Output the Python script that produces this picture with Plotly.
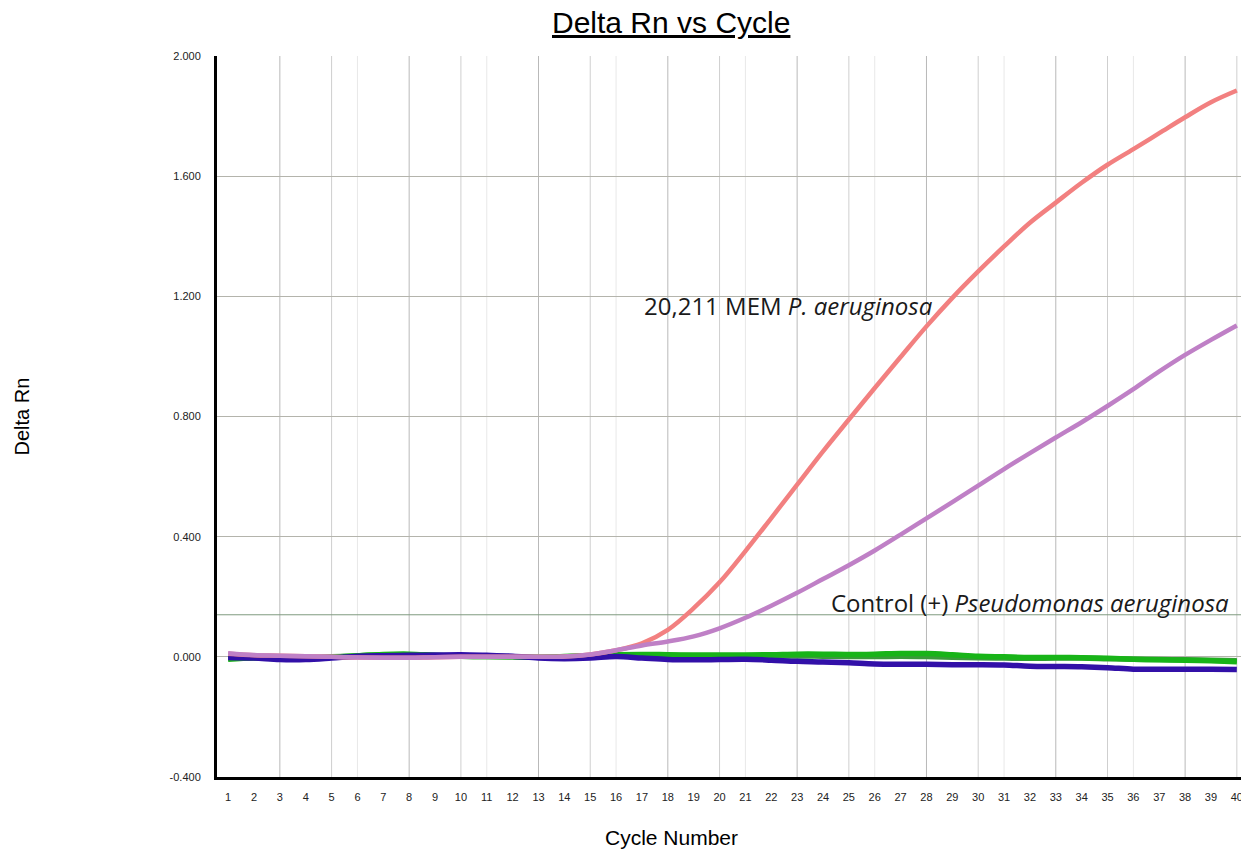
import plotly.graph_objects as go

cycles = list(range(1, 41))

# Delta Rn values
mem_pa = [0.010, 0.005, 0.004, 0.002, 0.000, -0.002, -0.003, -0.003, -0.001, 0.000,
          0.000, 0.000, 0.000, 0.001, 0.008, 0.022, 0.045, 0.090, 0.162, 0.248,
          0.352, 0.462, 0.573, 0.684, 0.790, 0.895, 0.998, 1.100, 1.195, 1.283,
          1.366, 1.445, 1.512, 1.578, 1.638, 1.690, 1.743, 1.796, 1.846, 1.885]

control_pa = [0.012, 0.006, 0.004, 0.002, 0.000, -0.002, -0.003, -0.003, -0.001, 0.000,
              0.000, 0.000, 0.000, 0.001, 0.008, 0.022, 0.038, 0.051, 0.068, 0.095,
              0.130, 0.170, 0.213, 0.259, 0.305, 0.354, 0.407, 0.461, 0.515, 0.570,
              0.625, 0.678, 0.730, 0.781, 0.835, 0.891, 0.950, 1.005, 1.055, 1.103]

green_a = [-0.008, -0.004, -0.006, -0.005, -0.001, 0.004, 0.008, 0.009, 0.005, 0.002,
           0.001, 0.000, -0.001, 0.001, 0.004, 0.007, 0.008, 0.007, 0.006, 0.006,
           0.006, 0.007, 0.009, 0.009, 0.008, 0.009, 0.011, 0.011, 0.007, 0.002,
           0.000, -0.002, -0.002, -0.003, -0.005, -0.008, -0.010, -0.011, -0.013, -0.016]

green_b = [-0.004, -0.002, -0.004, -0.004, 0.000, 0.003, 0.006, 0.007, 0.004, 0.002,
           0.001, 0.000, -0.001, 0.000, 0.003, 0.005, 0.006, 0.005, 0.004, 0.003,
           0.002, 0.002, 0.003, 0.002, 0.001, 0.001, 0.002, 0.001, -0.001, -0.003,
           -0.004, -0.005, -0.004, -0.004, -0.006, -0.008, -0.009, -0.010, -0.011, -0.013]

blue_a = [-0.002, -0.004, -0.009, -0.009, -0.004, 0.002, 0.004, 0.005, 0.006, 0.007,
          0.005, 0.002, -0.004, -0.006, -0.004, 0.001, -0.004, -0.009, -0.010, -0.009,
          -0.008, -0.011, -0.015, -0.017, -0.020, -0.024, -0.025, -0.025, -0.026, -0.026,
          -0.027, -0.031, -0.032, -0.033, -0.036, -0.041, -0.041, -0.041, -0.041, -0.042]

# vertical grid positions (cycles)
grid_major = [3, 8, 13, 18, 23, 28, 33, 38]
grid_mid = [5, 10, 15, 20, 25, 30, 35, 40]
grid_light = [6, 11, 16, 21, 26, 31, 36]

threshold = 0.14

fig = go.Figure()

fig.add_trace(go.Scatter(x=cycles, y=green_b, mode="lines", line=dict(color="#3a9a3a", width=5.5, shape="spline"), showlegend=False))
fig.add_trace(go.Scatter(x=cycles, y=green_a, mode="lines", line=dict(color="#18b418", width=5.5, shape="spline"), showlegend=False))
fig.add_trace(go.Scatter(x=cycles, y=blue_a, mode="lines", line=dict(color="#3210a8", width=5.5, shape="spline"), showlegend=False))
fig.add_trace(go.Scatter(x=cycles, y=mem_pa, mode="lines", line=dict(color="#f28080", width=4.5, shape="spline"), showlegend=False))
fig.add_trace(go.Scatter(x=cycles, y=control_pa, mode="lines", line=dict(color="#bf80c6", width=4.5, shape="spline"), showlegend=False))

shapes = []
for c in grid_major:
    shapes.append(dict(type="line", xref="x", yref="paper", x0=c, x1=c, y0=0, y1=1,
                       line=dict(color="#b9b9b9", width=1), layer="below"))
for c in grid_mid:
    shapes.append(dict(type="line", xref="x", yref="paper", x0=c, x1=c, y0=0, y1=1,
                       line=dict(color="#cfcfcf", width=1), layer="below"))
for c in grid_light:
    shapes.append(dict(type="line", xref="x", yref="paper", x0=c, x1=c, y0=0, y1=1,
                       line=dict(color="#e8e8e8", width=1), layer="below"))
shapes.append(dict(type="line", xref="paper", yref="y", x0=0, x1=1, y0=threshold, y1=threshold,
                   line=dict(color="#7f9a7f", width=1), layer="below"))

annotations = [
    dict(text="<u>Delta Rn vs Cycle</u>", xref="paper", yref="paper", x=0.44, y=1.046,
         showarrow=False, font=dict(family="Arial, Liberation Sans", size=30, color="#000000"),
         xanchor="center", yanchor="middle"),
    dict(text="Delta Rn", xref="paper", yref="paper", x=-0.189, y=0.5, textangle=-90,
         showarrow=False, font=dict(family="Arial, Liberation Sans", size=20, color="#000000"),
         xanchor="center", yanchor="middle"),
    dict(text="Cycle Number", xref="paper", yref="paper", x=0.44, y=-0.0846,
         showarrow=False, font=dict(family="Arial, Liberation Sans", size=21, color="#000000"),
         xanchor="center", yanchor="middle"),
    dict(text="20,211 MEM <i>P. aeruginosa</i>", xref="x", yref="y", x=22.65, y=1.17,
         showarrow=False, font=dict(family="Open Sans", size=24, color="#1a1a1a"),
         xanchor="center", yanchor="middle"),
    dict(text="Control (+) <i>Pseudomonas aeruginosa</i>", xref="x", yref="y", x=32.0, y=0.18,
         showarrow=False, font=dict(family="Open Sans", size=24, color="#1a1a1a"),
         xanchor="center", yanchor="middle"),
]

fig.update_layout(
    width=1249, height=850,
    margin=dict(l=209, r=8, t=48, b=81),
    paper_bgcolor="white", plot_bgcolor="white",
    shapes=shapes, annotations=annotations,
    showlegend=False,
    font=dict(family="Arial, Liberation Sans", color="#222222"),
)

fig.update_xaxes(
    range=[0.57, 40.47], tickmode="array", tickvals=cycles, ticktext=[str(c) for c in cycles],
    showgrid=False, zeroline=False, showline=True, linecolor="#000000", linewidth=3,
    ticks="", tickfont=dict(size=11, color="#222222"), ticklabelstandoff=8,
)
fig.update_yaxes(
    range=[-0.4, 2.0], tickmode="array", tickvals=[-0.4, 0.0, 0.4, 0.8, 1.2, 1.6, 2.0],
    ticktext=["-0.400", "0.000", "0.400", "0.800", "1.200", "1.600", "2.000"],
    showgrid=True, gridcolor="#b4b4ac", gridwidth=1, zeroline=True, zerolinecolor="#b4b4ac", zerolinewidth=1,
    showline=True, linecolor="#000000", linewidth=3,
    ticks="", tickfont=dict(size=11, color="#222222"), ticklabelstandoff=11,
)

fig.write_html("out.html")
